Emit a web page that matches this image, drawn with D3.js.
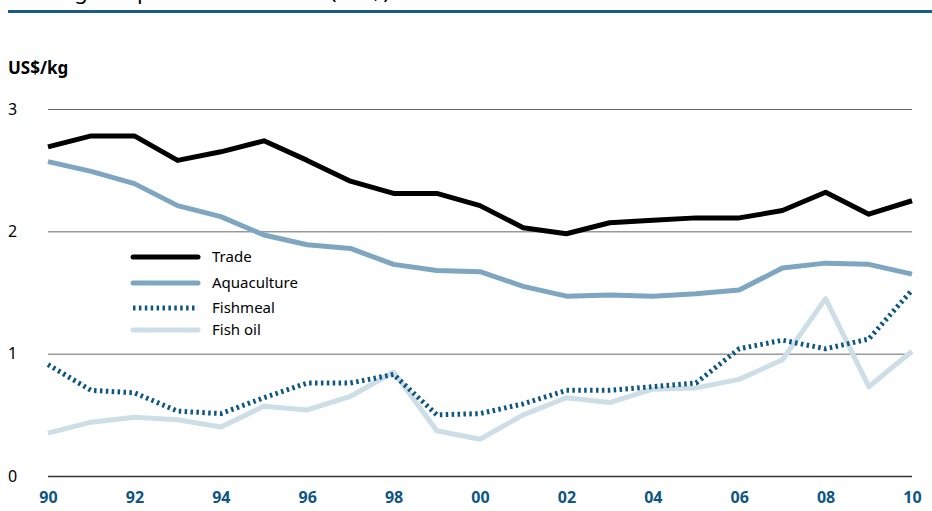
<!DOCTYPE html>
<html>
<head>
<meta charset="utf-8">
<script src="https://cdn.jsdelivr.net/npm/d3@7"></script>
<style>
  body { margin: 0; background: #fff; }
  svg { font-family: 'Noto Sans', 'Open Sans', sans-serif; }
</style>
</head>
<body>
<svg width="932" height="511"></svg>
<script>
// valores (US$/kg)
const years = d3.range(1990, 2011);
const yearLabels = ['90', '92', '94', '96', '98', '00', '02', '04', '06', '08', '10'];
const yTicks = [0, 1, 2, 3];

const trade = [2.69, 2.78, 2.78, 2.58, 2.65, 2.74, 2.58, 2.41, 2.31, 2.31, 2.21,
  2.03, 1.98, 2.07, 2.09, 2.11, 2.11, 2.17, 2.32, 2.14, 2.25];
const aquaculture = [2.57, 2.49, 2.39, 2.21, 2.12, 1.97, 1.89, 1.86, 1.73, 1.68, 1.67,
  1.55, 1.47, 1.48, 1.47, 1.49, 1.52, 1.70, 1.74, 1.73, 1.65];
const fishmeal = [0.91, 0.70, 0.68, 0.53, 0.51, 0.64, 0.76, 0.76, 0.83, 0.50, 0.51,
  0.59, 0.70, 0.70, 0.73, 0.76, 1.04, 1.11, 1.04, 1.12, 1.52];
const fishOil = [0.35, 0.44, 0.48, 0.46, 0.40, 0.57, 0.54, 0.65, 0.85, 0.37, 0.30,
  0.50, 0.64, 0.60, 0.71, 0.72, 0.79, 0.95, 1.45, 0.73, 1.02];

const seriesNames = ['Trade', 'Aquaculture', 'Fishmeal', 'Fish oil'];

function generateChart() {
  const svg = d3.select('svg');

  const series = [
    { name: seriesNames[0], values: trade, color: '#000000', dash: null },
    { name: seriesNames[1], values: aquaculture, color: '#7ea6c0', dash: null },
    { name: seriesNames[2], values: fishmeal, color: '#0d5683', dash: '2.5,3.4' },
    { name: seriesNames[3], values: fishOil, color: '#cddee7', dash: null }
  ];

  const xScale = d3.scaleLinear()
    .domain([1990, 2010])
    .range([48, 912]);

  const yScale = d3.scaleLinear()
    .domain([0, 3])
    .range([476, 109]);

  // titulo cortado arriba (solo se ven los trazos bajos)
  svg.append('text')
    .attr('x', 8)
    .attr('y', -1)
    .attr('font-size', 22)
    .attr('letter-spacing', 1.5)
    .attr('fill', '#000')
    .text('Average export unit values (US$)');

  svg.append('rect')
    .attr('x', 8)
    .attr('y', 10)
    .attr('width', 924)
    .attr('height', 3)
    .attr('fill', '#1b5b87');

  svg.append('text')
    .attr('x', 8)
    .attr('y', 74)
    .attr('font-size', 17)
    .attr('font-weight', 'bold')
    .text('US$/kg');

  // lineas de grilla
  svg.append('g')
    .attr('transform', 'translate(48, 0)')
    .call(d3.axisLeft(yScale)
      .tickValues(yTicks)
      .tickSize(-864)
      .tickFormat(''))
    .call(g => g.select('.domain').remove())
    .call(g => g.selectAll('.tick line')
      .attr('stroke', (d) => d === 0 ? '#333' : '#666')
      .attr('stroke-width', (d) => d === 0 ? 1.5 : 1));

  svg.append('g')
    .selectAll('text')
    .data(yTicks)
    .enter()
    .append('text')
    .attr('x', 8)
    .attr('y', (d) => yScale(d))
    .attr('dy', '0.35em')
    .attr('font-size', 16)
    .text((d) => d);

  // eje x
  svg.append('g')
    .attr('transform', 'translate(0, 490)')
    .call(d3.axisBottom(xScale)
      .tickValues(d3.range(1990, 2011, 2))
      .tickSize(0)
      .tickFormat((d, i) => yearLabels[i]))
    .call(g => g.select('.domain').remove())
    .call(g => g.selectAll('text')
      .attr('font-family', "'Noto Sans', sans-serif")
      .attr('font-size', 16)
      .attr('font-weight', 'bold')
      .attr('fill', '#0d5683')
      .attr('dy', '0.6em'));

  const line = d3.line()
    .x((d, i) => xScale(years[i]))
    .y((d) => yScale(d));

  // se dibuja de atras hacia adelante
  [3, 2, 1, 0].forEach((k) => {
    const s = series[k];
    svg.append('path')
      .datum(s.values)
      .attr('fill', 'none')
      .attr('stroke', s.color)
      .attr('stroke-width', 5)
      .attr('stroke-linejoin', 'round')
      .attr('stroke-dasharray', s.dash)
      .attr('d', line);
  });

  // leyenda
  const legend = svg.append('g')
    .selectAll('g')
    .data(series)
    .enter()
    .append('g')
    .attr('transform', (d, i) => `translate(133, ${[257, 283, 308, 330][i]})`);

  legend.append('line')
    .attr('x1', 0)
    .attr('x2', 65)
    .attr('stroke', (d) => d.color)
    .attr('stroke-width', 5)
    .attr('stroke-linecap', (d) => d.dash ? 'butt' : 'round')
    .attr('stroke-dasharray', (d) => d.dash);

  legend.append('text')
    .attr('x', 79)
    .attr('dy', '0.35em')
    .attr('font-size', 15)
    .text((d) => d.name);
}

generateChart();
</script>
</body>
</html>
